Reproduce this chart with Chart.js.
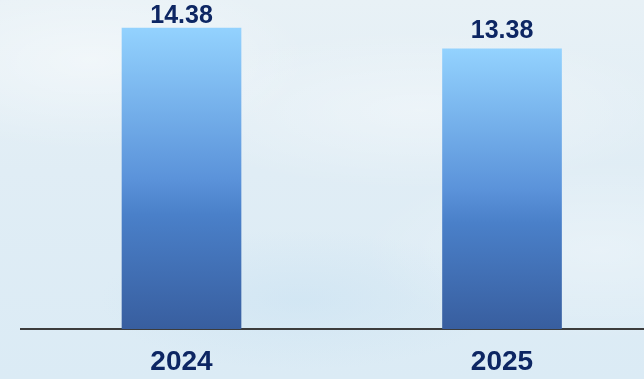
<!DOCTYPE html>
<html>
<head>
<meta charset="utf-8">
<script src="https://cdn.jsdelivr.net/npm/chart.js@4.4.1/dist/chart.umd.min.js"></script>
<style>
  html, body { margin: 0; padding: 0; width: 644px; height: 379px; overflow: hidden; }
  body {
    background:
      radial-gradient(ellipse 220px 90px at 90px 60px, rgba(255,255,255,0.45), rgba(255,255,255,0)),
      radial-gradient(ellipse 260px 80px at 420px 110px, rgba(255,255,255,0.35), rgba(255,255,255,0)),
      radial-gradient(ellipse 200px 70px at 300px 300px, rgba(200,225,242,0.5), rgba(200,225,242,0)),
      radial-gradient(ellipse 240px 90px at 600px 250px, rgba(255,255,255,0.3), rgba(255,255,255,0)),
      linear-gradient(180deg, #e8f1f6 0%, #e0edf5 45%, #dbebf5 100%);
  }
  #wrap { position: relative; width: 644px; height: 379px; }
</style>
</head>
<body>
<div id="wrap"><canvas id="salesChart"></canvas></div>
<script>
// Datos del gráfico
const years = ['2024', '2025'];
const values = [14.38, 13.38];
const yMax = 15;

const navy = '#0d2663';

// Degradado vertical de cada barra, de su tope a la base
const barGradient = (context) => {
    const chart = context.chart;
    const yScale = chart.scales.y;
    const value = values[context.dataIndex];
    if (!yScale || value === undefined) return '#4a80c9';
    const top = yScale.getPixelForValue(value);
    const base = yScale.getPixelForValue(0);
    if (!isFinite(top) || !isFinite(base)) return '#4a80c9';
    const g = chart.ctx.createLinearGradient(0, top, 0, base);
    g.addColorStop(0, '#93d2fe');
    g.addColorStop(0.5, '#5b93da');
    g.addColorStop(0.62, '#4a80c9');
    g.addColorStop(1, '#385e9f');
    return g;
};

// Etiquetas de valor encima de las barras
const valueLabels = {
    id: 'valueLabels',
    afterDatasetsDraw(chart) {
        const ctx = chart.ctx;
        const meta = chart.getDatasetMeta(0);
        ctx.save();
        ctx.font = 'bold 25px "Liberation Sans", Arial, sans-serif';
        ctx.fillStyle = navy;
        ctx.textAlign = 'center';
        ctx.textBaseline = 'alphabetic';
        meta.data.forEach((bar, i) => {
            const y = Math.max(bar.y - 10.5, 23); // no salir del lienzo
            ctx.fillText(values[i].toFixed(2), bar.x, y);
        });
        ctx.restore();
    }
};

const ctx = document.getElementById('salesChart').getContext('2d');
new Chart(ctx, {
    type: 'bar',
    data: {
        datasets: [{
            data: values.map((v, i) => ({ x: i, y: v })),
            backgroundColor: barGradient,
            borderWidth: 0,
            barThickness: 119
        }]
    },
    options: {
        responsive: true,
        maintainAspectRatio: false,
        animation: false,
        layout: { padding: { top: 15, left: 21, right: 0, bottom: 0 } },
        plugins: { legend: { display: false }, tooltip: { enabled: false } },
        scales: {
            x: {
                type: 'linear',
                offset: false,
                min: -0.5008,
                max: 1.443,
                afterBuildTicks: (axis) => { axis.ticks = years.map((_, i) => ({ value: i })); },
                afterFit: (axis) => { axis.height = 50; },
                grid: { display: false, drawTicks: false, offset: false },
                border: { display: true, color: '#3c3c3c', width: 2 },
                ticks: {
                    padding: 16,
                    color: navy,
                    font: { family: '"Liberation Sans", Arial, sans-serif', size: 28, weight: 'bold' },
                    callback: (value) => years[value] ?? ''
                }
            },
            y: {
                display: false,
                min: 0,
                max: yMax
            }
        }
    },
    plugins: [valueLabels]
});
</script>
</body>
</html>
